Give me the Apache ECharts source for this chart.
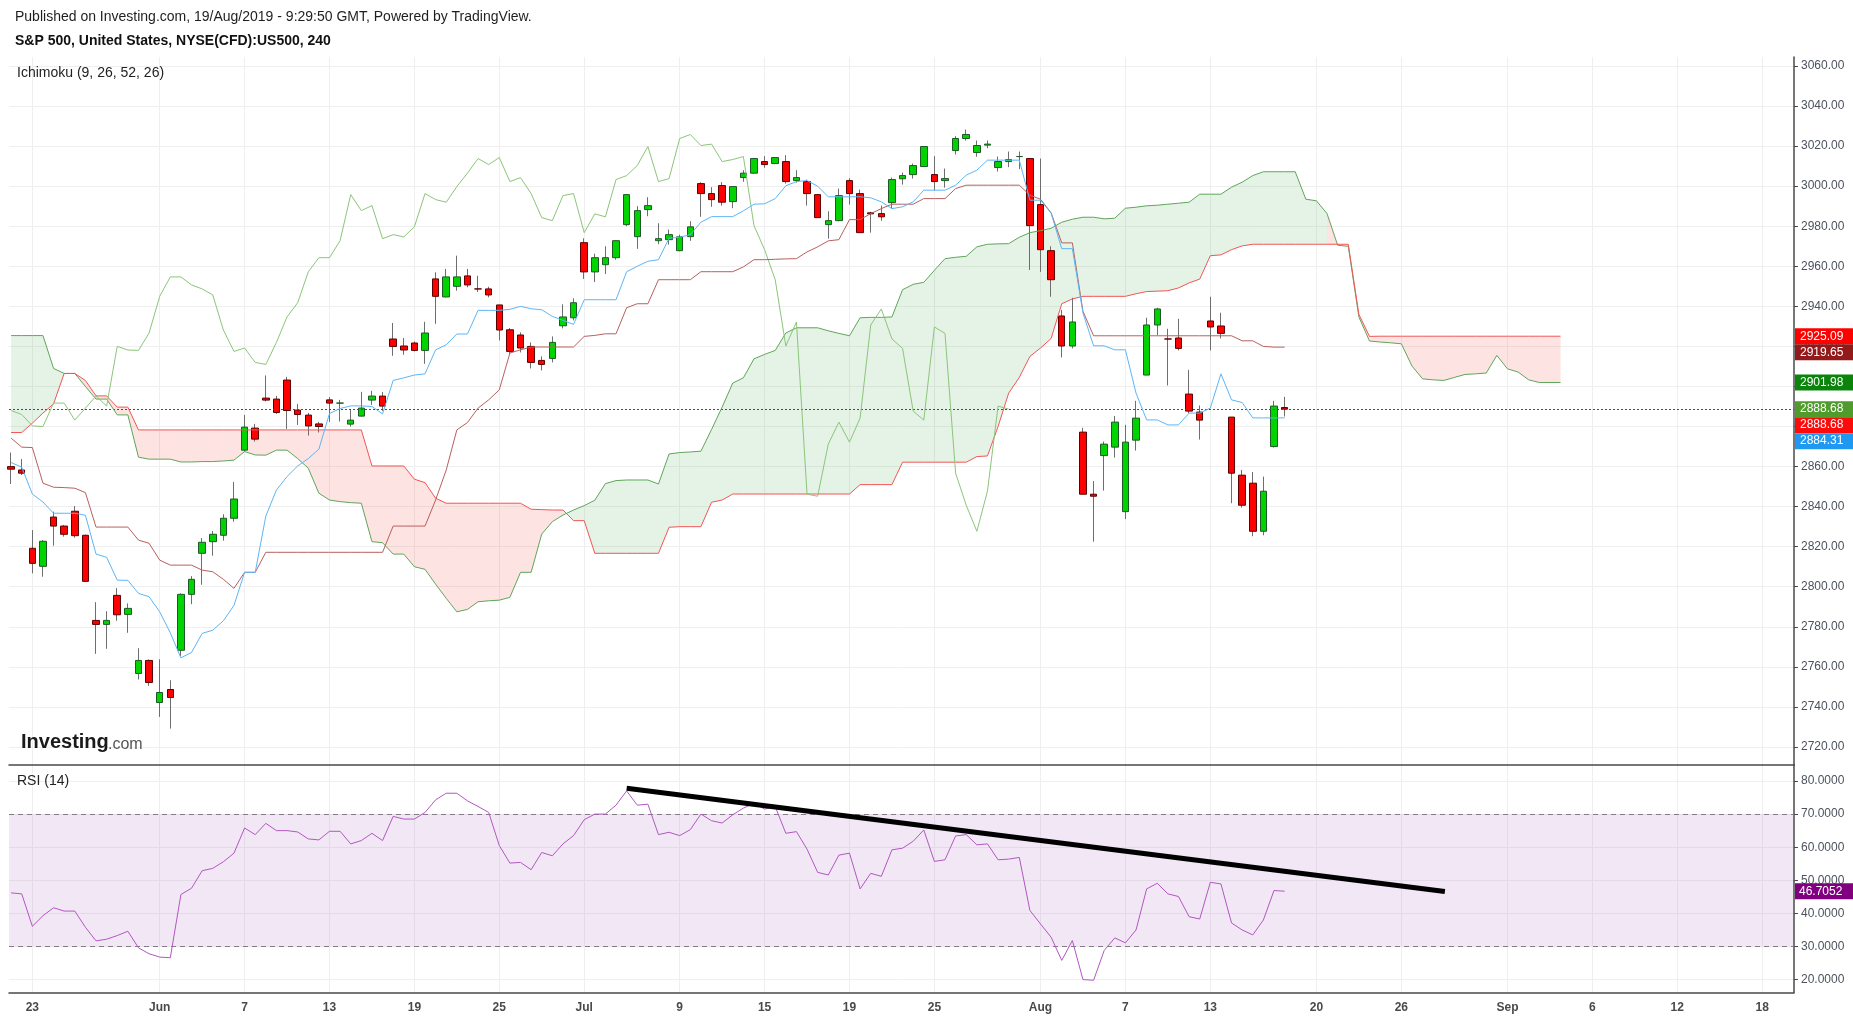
<!DOCTYPE html>
<html><head><meta charset="utf-8">
<script src="https://cdn.jsdelivr.net/npm/echarts@6/dist/echarts.min.js"></script>
<style>html,body{margin:0;padding:0;background:#fff}#c{width:1853px;height:1016px}</style>
</head><body><div id="c"></div>
<script>
// ---------- DATA (bar index 0 = 22 May 2019, two 4h bars per session) ----------
const opens = [2860,2858.3,2819.2,2810.2,2834.8,2830.3,2837.7,2825.7,2783.2,2781.2,
 2795.7,2786.2,2756.7,2763.2,2742.2,2748.7,2768.3,2796.2,2816.7,2822.5,
 2825.7,2834.2,2868.2,2879.2,2894.2,2893.7,2903.2,2888.2,2885.7,2881.3,
 2893.3,2891.7,2881.2,2885.2,2893.2,2895.2,2923.7,2920.2,2921.7,2918,
 2953.7,2944.7,2950,2955.2,2948.7,2948.7,2940.7,2928.3,2925.7,2920,
 2913,2914,2930.3,2934.3,2971.8,2957.2,2960.8,2964.3,2980.8,2974.8,
 2988.3,2972.8,2973.3,2967.8,2974.8,3001.3,2996.3,3000.3,2992.3,3004.3,
 3006.5,3012.3,3011.3,3012.3,3002.8,3002.3,2995.8,2980.8,2982.8,3002.8,
 2996.3,2986.7,2986.3,2991.8,3003.7,3005.8,3009.8,3005.8,3002.8,3017.8,
 3023.8,3016.8,3020.5,3009.3,3012.3,3014.8,3013.8,2990.8,2967.8,2935.2,
 2920.2,2877.2,2846.2,2865.5,2869.7,2837.5,2873.2,2905.7,2930.7,2923.7,
 2924.2,2896.2,2887.2,2932.7,2930.2,2884.7,2855.7,2851.7,2827.7,2870,
 2889.5];
const highs = [2867,2863.8,2828.3,2823.3,2837.5,2830.8,2840.3,2826,2792.3,2787.8,
 2799.3,2791.7,2769.3,2763.7,2763.8,2753.3,2796.7,2805.3,2824.3,2827.8,
 2836.2,2852.3,2885.8,2881.3,2905.5,2895.3,2904.8,2891.3,2886.8,2882.3,
 2894.7,2893.3,2888.3,2897.3,2897.8,2897.2,2931.7,2924.2,2922.5,2932.3,
 2957,2958.7,2965.3,2958.7,2955.3,2949.8,2940.7,2929.2,2927,2922,
 2915,2925,2941,2944,2974,2966.3,2970,2972.8,2995.8,2990,
 2994.5,2981.5,2978.3,2975.8,2982.5,3002,2999.5,3002,2999.8,3008,
 3013.8,3015,3014.3,3015.5,3008,3003.3,2996,2987.5,2998.8,3004,
 2998.3,2987.2,2990.3,3004.3,3006.8,3011.3,3019.8,3015,3008.8,3025,
 3028.3,3022.8,3022.8,3014.8,3017.3,3017.3,3013.8,3013.8,2970,2938.2,
 2944.3,2879.3,2852.8,2872.5,2885.3,2880.8,2892.8,2934.3,2939.3,2928.8,
 2933.8,2908.3,2890.5,2944.8,2936.8,2884.7,2858.3,2857.3,2855,2892.8,
 2894.8];
const lows = [2851.3,2855.8,2806.7,2805,2820.5,2825,2824.5,2802.5,2766.5,2769,
 2783,2777,2753.7,2750.5,2735,2729.2,2765.3,2791.3,2801,2815.5,
 2823,2832.5,2867.5,2872.5,2892.5,2886.3,2878.8,2880.8,2875.5,2877,
 2882.3,2882.5,2880,2885,2890.8,2887.8,2915.3,2915.8,2917.5,2911.3,
 2931.3,2944.5,2947.8,2949.5,2947.2,2944.5,2923,2916.3,2917,2909,
 2908,2912,2929,2933,2953.7,2952.2,2956.2,2963.3,2980,2968.7,
 2985,2971,2970.8,2967.5,2972.7,2984.7,2989.7,2990.3,2989,3002.2,
 3006.3,3009.2,3011,3001.3,3001.8,2990.3,2984.3,2973.8,2982.5,2990.8,
 2976.8,2976.8,2982.7,2988.8,3000.8,3003.8,3009.5,2997.8,2999.3,3015.8,
 3022.8,3014.7,3019,3007.3,3009.5,3008.5,2958.2,2957.2,2944.8,2914.5,
 2919,2846.2,2822.5,2848,2864.5,2833.8,2868,2905.7,2925.5,2900.5,
 2918,2886.7,2873.5,2918,2924,2841.7,2839.5,2825.2,2825.7,2869.5,
 2885];
const closes = [2858.7,2856.7,2811.7,2822.7,2830.3,2826.2,2825.5,2802.7,2781.2,2783.2,
 2786,2789.2,2763.2,2752.2,2747.2,2744.7,2796.2,2803.7,2822.2,2826.2,
 2834.2,2843.8,2879.7,2873.7,2893.2,2887,2888,2886,2880.3,2880,
 2891.7,2891.7,2883.2,2889.2,2895.2,2890.2,2920,2918.2,2918,2926.7,
 2945,2954.7,2954.7,2950.7,2948.7,2945.7,2928.2,2917.5,2919.2,2912,
 2911,2922,2934.7,2941.8,2957.2,2964.3,2964.3,2972.8,2995.8,2987.8,
 2990.3,2973.8,2975.8,2974.7,2979.7,2996.3,2993.3,2992,2999.8,3006.5,
 3013.8,3010.8,3014.3,3002.3,3004.3,2996.3,2984.3,2982.8,2995.3,2996.3,
 2976.8,2986.2,2984.7,3003.3,3005.3,3010.3,3019.8,3002.3,3003.8,3023.8,
 3025.8,3020.3,3021,3012.3,3013.3,3014.8,2980.3,2968.3,2953.3,2920.2,
 2932.2,2846.2,2845.2,2871.2,2882.2,2872.2,2884.2,2930.7,2938.7,2923.7,
 2919,2887.7,2883.2,2929.7,2926.5,2856.7,2840.7,2827.7,2847.7,2890.2,
 2888.68];
const tenkan = [2862,2859.7,2846.3,2842.3,2836.7,2836.7,2836.7,2835.7,2816.3,2814.7,
 2803.3,2803.2,2796.7,2795,2787.5,2777,2764.5,2767.2,2776.7,2778.3,
 2783,2790.7,2807.2,2807.2,2835.3,2848.3,2855,2860.3,2864,2868.7,
 2886.5,2889,2890.3,2890.3,2890,2886.3,2903,2904.3,2905.7,2906.3,
 2918.3,2920.8,2926.2,2926.2,2938,2938,2938,2938.5,2940,2938.8,
 2938.3,2935,2933,2931,2943.3,2943.3,2943.3,2943.3,2957.3,2960,
 2962.5,2963.3,2974,2974.5,2975.8,2982,2984.8,2984.8,2984.8,2987.7,
 2991,2991.2,2993.8,3000.2,3002.3,3002.8,3000,2994.7,2994.7,2994.7,
 2994.7,2994.2,2992.2,2988.8,2989.7,2992.2,2998,2998,2998,3000.5,
 3005.5,3008,3013,3013,3013,3013,2993,2993,2986.5,2968.8,
 2968.8,2936.7,2920.3,2920.3,2918.3,2918.3,2896.7,2883.3,2883.3,2880.8,
 2880.8,2886.7,2886.7,2889.2,2906.3,2893.3,2892,2884.3,2884.3,2884.3,
 2884.31];
const kijun = [2874.2,2869.7,2869.5,2851.7,2849.7,2849.5,2849.2,2847,2829.8,2829.8,
 2829.8,2829.8,2823.3,2821.7,2813.3,2810.8,2810.8,2810.8,2808.3,2807.5,
 2803.7,2799.2,2807.2,2807.2,2817.2,2817.2,2817.2,2817.2,2817.2,2817.2,
 2817.2,2817.2,2817.2,2817.2,2817.2,2817.2,2830.3,2830.3,2830.3,2830.3,
 2843.3,2858.3,2878.3,2882,2889.2,2893.3,2898.3,2916.7,2918.3,2919.7,
 2919.7,2919.7,2919.7,2919.7,2925,2925.5,2926.3,2926.3,2939.3,2941.3,
 2941.3,2953.3,2953.3,2953.3,2953.3,2957.3,2957.3,2957.3,2957.3,2959.7,
 2963.3,2963.3,2963.5,2963.7,2963.8,2967.2,2969.7,2972.7,2973.3,2983.3,
 2983.3,2986.3,2988.8,2991,2991,2991,2993.8,2993.8,2993.8,2998.8,
 3000.5,3000.5,3000.5,3000.5,3000.5,3000.5,2995.5,2993.5,2986.7,2971.7,
 2971.7,2937.5,2925.3,2925.3,2925.3,2925.3,2925.3,2925.3,2925.3,2925.3,
 2925.3,2925.3,2925.3,2925.3,2925.3,2925.3,2922.8,2922.8,2920,2919.65,
 2919.65];
// Senkou spans, already displaced 26 bars forward (index 0..146)
const senkouA = [2925.4,2925.4,2925.4,2925.4,2909,2906.5,2906.5,2900,2893.7,2893.7,
 2885.8,2885.8,2864.7,2863.7,2863.7,2863.7,2862.3,2862.3,2862.5,2862.5,
 2862.8,2863.2,2867.5,2865.8,2865.7,2868.2,2868.2,2864,2859.2,2846.7,
 2843.3,2842.5,2842,2841.7,2822.5,2822,2816.3,2816.3,2810,2808.7,
 2801.3,2794.2,2787.5,2788.7,2792.5,2793,2793.3,2794.7,2807.2,2807.2,
 2826.3,2832.5,2835.8,2838.3,2840.5,2843.2,2851.5,2853,2853.3,2853.3,
 2853.3,2851.3,2866.3,2867,2867.3,2867.7,2878.5,2889.7,2901.7,2904.3,
 2913.8,2916,2918,2926.7,2929.3,2929.3,2929.3,2927.8,2926.5,2925.3,
 2934.3,2934.5,2934.5,2934.7,2948.3,2951,2952,2958,2963.8,2964.5,
 2965,2969.7,2971,2971.2,2971.3,2974.5,2976.8,2977.8,2979,2982,
 2983.5,2984.5,2984.5,2983.7,2984,2989,2989.5,2990.2,2990.5,2991,
 2991.5,2992,2996,2996,2996,2999.5,3002,3005.3,3007.2,3007.2,
 3007.2,3007.2,2993.5,2992.7,2986.3,2970.5,2970,2934.7,2922.7,2922.2,
 2921.8,2921.3,2910.2,2903.8,2903.3,2903,2904.5,2906,2906.3,2906.7,
 2915.5,2908.8,2907.2,2903.3,2901.98,2901.98,2901.98];
const senkouB = [2877,2877,2881.7,2886.7,2891.3,2906.5,2906.5,2903,2895.3,2895.3,
 2889.7,2889.7,2878.3,2878.3,2878.3,2878.3,2878.3,2878.3,2878.3,2878.3,
 2878.3,2878.3,2878.3,2878.3,2878.3,2878.3,2878.3,2878.3,2878.3,2878.3,
 2878.3,2878.3,2878.3,2878.3,2860.3,2860.3,2860.3,2860.3,2853.7,2852,
 2844.2,2841.7,2841.7,2841.7,2841.7,2841.7,2841.7,2841.7,2841.7,2838.7,
 2838.5,2838.3,2838.3,2833,2833,2816.7,2816.7,2816.7,2816.7,2816.7,
 2816.7,2816.7,2829.7,2830,2830,2830,2842.2,2843.3,2846.3,2846.3,
 2846.3,2846.3,2846.3,2846.3,2846.3,2846.3,2846.3,2846.3,2846.3,2846.3,
 2851,2851,2851,2851,2862.2,2862.2,2862.2,2862.2,2862.2,2862.2,
 2862.2,2865,2865.3,2880,2896.7,2904.5,2915,2919.2,2924,2941.3,
 2943.7,2945,2945,2945,2945,2945,2946.3,2947.4,2947.6,2947.8,
 2949.2,2951.7,2953.6,2965.3,2965.7,2968.3,2970.2,2971,2971,2971,
 2971,2971,2971,2971,2971,2971,2971,2936,2925,2925.09,
 2925.09,2925.09,2925.09,2925.09,2925.09,2925.09,2925.09,2925.09,2925.09,2925.09,
 2925.09,2925.09,2925.09,2925.09,2925.09,2925.09,2925.09];
const rsi = [46.2,45.9,36.1,39.3,41.7,40.7,40.7,35.8,31.7,32.2,
 33.3,34.6,29.6,27.8,26.8,26.6,45.7,47.6,52.9,53.6,
 55.6,58.2,65.8,63.8,67.2,65,65,64.6,62.5,62.2,
 64.8,64.8,61,62,64.2,62,69.3,68.5,68.5,70.5,
 74.3,76.3,76.3,74,72.3,70.5,60.5,55.2,55.4,53.2,
 58.4,57.4,61,63.5,68.3,70,70,72.7,77,72.7,
 73,63.8,64.5,63.5,65.3,70,68,67.3,69.8,71.8,
 73.3,71.5,72.3,64.2,64.7,59.4,52.4,51.6,57.6,58.2,
 47.4,52.1,51.2,59.2,59.7,61.8,65.2,55.7,56.2,63.4,
 63.8,60.7,61,56.2,56.4,56.9,40.9,36.8,32.8,25.8,
 31.8,20,19.8,28.8,32.6,31.1,35,47.4,49.1,45.9,
 45.1,39,38.3,49.4,48.9,37.1,35,33.5,38,46.9,
 46.7052];
const rsiTrend = [[58, 77.8], [135.1, 46.6]];
const rsiLevels = [70, 30];
const lastPrice = 2888.68;
const dateTickIdx = [2,14,22,30,38,46,54,63,71,79,87,97,105,113,123,131,141,149,157,165];
const dateTickLbl = ['23','Jun','7','13','19','25','Jul','9','15','19','25','Aug','7','13','20','26','Sep','6','12','18'];
const priceTicks = [2720,2740,2760,2780,2800,2820,2840,2860,2880,2900,2920,2940,2960,2980,3000,3020,3040,3060];
const rsiTicks = [20,30,40,50,60,70,80];
const priceBadgeValues = [2925.09, 2919.65, 2901.98, 2888.68, 2888.68, 2884.31];
const rsiBadgeValue = 46.7052;

// ---------- STYLE ----------
const FONT = '"Liberation Sans", Arial, Helvetica, sans-serif';
const priceBadgeColors = ['#FF0000', '#931A1A', '#0A840A', '#4F9B2B', '#FF0A0A', '#1E98F0'];
const GRID_C = '#EFEFEF';
const AXIS_C = '#4A4A4A';

const idx = closes.map((_, i) => i);
const wickData = idx.map(i => [i, opens[i], closes[i], lows[i], highs[i]]);
const bodyData = idx.map(i => [i, opens[i], closes[i], Math.min(opens[i], closes[i]), Math.max(opens[i], closes[i])]);
const pairs = arr => arr.map((v, i) => [i, v]);
const chikou = closes.slice(26).map((c, j) => [j, c]);
const cloudData = senkouA.slice(0, -1).map((a, i) => [i, a, senkouB[i], senkouA[i + 1], senkouB[i + 1]]);

const chart = echarts.init(document.getElementById('c'), null, {renderer: 'canvas', width: 1853, height: 1016});

const xLabelFmt = v => { const k = dateTickIdx.indexOf(Math.round(v)); return k >= 0 ? dateTickLbl[k] : ''; };

function xAxisCfg(gi, showLabels) {
  return {
    gridIndex: gi, type: 'value', min: -0.2, max: 168,
    axisLine: {show: true, onZero: false, lineStyle: {color: AXIS_C, width: 1.5}},
    axisTick: {show: false, customValues: dateTickIdx},
    axisLabel: {show: showLabels, customValues: dateTickIdx, formatter: xLabelFmt,
      color: '#4a4a4a', fontSize: 12, fontWeight: 'bold', fontFamily: FONT, margin: 9},
    splitLine: {show: true, lineStyle: {color: GRID_C, width: 1}}
  };
}
function yAxisCfg(gi, min, max, ticks, dec) {
  return {
    gridIndex: gi, type: 'value', position: 'right', min: min, max: max, scale: true,
    axisLine: {show: true, onZero: false, lineStyle: {color: AXIS_C, width: 1.5}},
    axisTick: {show: true, inside: false, length: 4, customValues: ticks, lineStyle: {color: AXIS_C}},
    axisLabel: {show: true, customValues: ticks, formatter: v => v.toFixed(dec),
      color: '#4C525E', fontSize: 12, fontFamily: FONT, margin: 7},
    splitLine: {show: true, lineStyle: {color: GRID_C, width: 1}}
  };
}

const option = {
  animation: false,
  backgroundColor: '#ffffff',
  textStyle: {fontFamily: FONT},
  grid: [
    {left: 9, right: 59, top: 57, height: 708},
    {left: 9, right: 59, top: 765, height: 227.6}
  ],
  xAxis: [xAxisCfg(0, false), xAxisCfg(1, true)],
  yAxis: [yAxisCfg(0, 2711, 3064.5, priceTicks, 2), yAxisCfg(1, 16.07, 84.83, rsiTicks, 4)],
  series: [
    {
      name: 'cloud', type: 'custom', xAxisIndex: 0, yAxisIndex: 0, z: 1, silent: true,
      data: cloudData, encode: {x: 0, y: [1, 2, 3, 4]},
      renderItem: function (params, api) {
        const i = api.value(0), a0 = api.value(1), b0 = api.value(2), a1 = api.value(3), b1 = api.value(4);
        const green = a1 >= b1;
        return {
          type: 'polygon',
          shape: {points: [api.coord([i, a0]), api.coord([i + 1, a1]), api.coord([i + 1, b1]), api.coord([i, b0])]},
          style: {fill: green ? 'rgba(76,175,80,0.15)' : 'rgba(244,67,54,0.15)'}
        };
      }
    },
    {
      name: 'wicks', type: 'candlestick', xAxisIndex: 0, yAxisIndex: 0, z: 3, barWidth: 1,
      data: wickData,
      itemStyle: {color: '#6E6E6E', color0: '#6E6E6E', borderColor: '#6E6E6E', borderColor0: '#6E6E6E', borderWidth: 1}
    },
    {
      name: 'bodies', type: 'candlestick', xAxisIndex: 0, yAxisIndex: 0, z: 4, barWidth: 7,
      data: bodyData,
      itemStyle: {color: '#00D400', color0: '#FF0000', borderColor: '#1D5A26', borderColor0: '#5C0000', borderWidth: 1},
      markLine: {
        silent: true, symbol: ['none', 'none'], label: {show: false},
        lineStyle: {color: '#FF0000', type: [2, 2], width: 1},
        data: [{yAxis: lastPrice}]
      }
    },
    {name: 'senkouA', type: 'line', xAxisIndex: 0, yAxisIndex: 0, z: 5, data: pairs(senkouA), showSymbol: false, symbol: 'none',
      lineStyle: {color: '#5FA65A', width: 1}},
    {name: 'senkouB', type: 'line', xAxisIndex: 0, yAxisIndex: 0, z: 5, data: pairs(senkouB), showSymbol: false, symbol: 'none',
      lineStyle: {color: '#F25656', width: 1}},
    {name: 'chikou', type: 'line', xAxisIndex: 0, yAxisIndex: 0, z: 6, data: chikou, showSymbol: false, symbol: 'none',
      lineStyle: {color: '#8CC57A', width: 1}},
    {name: 'kijun', type: 'line', xAxisIndex: 0, yAxisIndex: 0, z: 6, data: pairs(kijun), showSymbol: false, symbol: 'none',
      lineStyle: {color: '#B8605F', width: 1}},
    {name: 'tenkan', type: 'line', xAxisIndex: 0, yAxisIndex: 0, z: 7, data: pairs(tenkan), showSymbol: false, symbol: 'none',
      lineStyle: {color: '#5CB6F7', width: 1}},
    {
      name: 'rsi', type: 'line', xAxisIndex: 1, yAxisIndex: 1, z: 5, data: pairs(rsi), showSymbol: false, symbol: 'none',
      lineStyle: {color: '#B257C2', width: 1},
      markArea: {silent: true, itemStyle: {color: 'rgba(149,54,163,0.12)'}, data: [[{yAxis: rsiLevels[1]}, {yAxis: rsiLevels[0]}]]},
      markLine: {silent: true, symbol: ['none', 'none'], label: {show: false},
        lineStyle: {color: '#877A88', type: [5, 4], width: 1},
        data: rsiLevels.map(v => ({yAxis: v}))}
    },
    {name: 'trend', type: 'line', xAxisIndex: 1, yAxisIndex: 1, z: 9, data: rsiTrend, showSymbol: false, symbol: 'none',
      lineStyle: {color: '#000000', width: 5, cap: 'butt'}}
  ]
};
chart.setOption(option);

// ---------- text & axis badges ----------
const g = [
  {type: 'text', left: 15, top: 10, z: 50, style: {text: 'Published on Investing.com, 19/Aug/2019 - 9:29:50 GMT, Powered by TradingView.', font: '14px ' + FONT, fill: '#1e1e1e'}},
  {type: 'text', left: 15, top: 34, z: 50, style: {text: 'S&P 500, United States, NYSE(CFD):US500, 240', font: 'bold 14px ' + FONT, fill: '#111'}},
  {type: 'text', left: 17, top: 66, z: 50, style: {text: 'Ichimoku (9, 26, 52, 26)', font: '14px ' + FONT, fill: '#222'}},
  {type: 'text', left: 17, top: 774, z: 50, style: {text: 'RSI (14)', font: '14px ' + FONT, fill: '#222'}},
  {type: 'text', left: 21, top: 732, z: 50, style: {text: 'Investing', font: 'bold 20px ' + FONT, fill: '#1a1a1a'}},
  {type: 'text', left: 108, top: 737, z: 50, style: {text: '.com', font: '16px ' + FONT, fill: '#555'}}
];
const BH = 16, BX = 1795, BW = 58;
const items = priceBadgeValues.map((v, k) => ({v, c: priceBadgeColors[k], y: chart.convertToPixel({yAxisIndex: 0}, v)}));
items.sort((a, b) => a.y - b.y);
let prev = -1e9;
items.forEach(it => {
  const y = Math.max(it.y, prev + BH);
  prev = y;
  g.push({type: 'rect', z: 60, shape: {x: BX, y: y - BH / 2, width: BW, height: BH}, style: {fill: it.c}});
  g.push({type: 'text', z: 61, x: BX + 5, y: y, style: {text: it.v.toFixed(2), font: '12px ' + FONT, fill: '#fff', verticalAlign: 'middle'}});
});
const ry = chart.convertToPixel({yAxisIndex: 1}, rsiBadgeValue);
g.push({type: 'rect', z: 60, shape: {x: BX, y: ry - BH / 2, width: BW, height: BH}, style: {fill: '#800080'}});
g.push({type: 'text', z: 61, x: BX + 4, y: ry, style: {text: rsiBadgeValue.toFixed(4), font: '12px ' + FONT, fill: '#fff', verticalAlign: 'middle'}});
chart.setOption({graphic: g});
</script>
</body></html>
